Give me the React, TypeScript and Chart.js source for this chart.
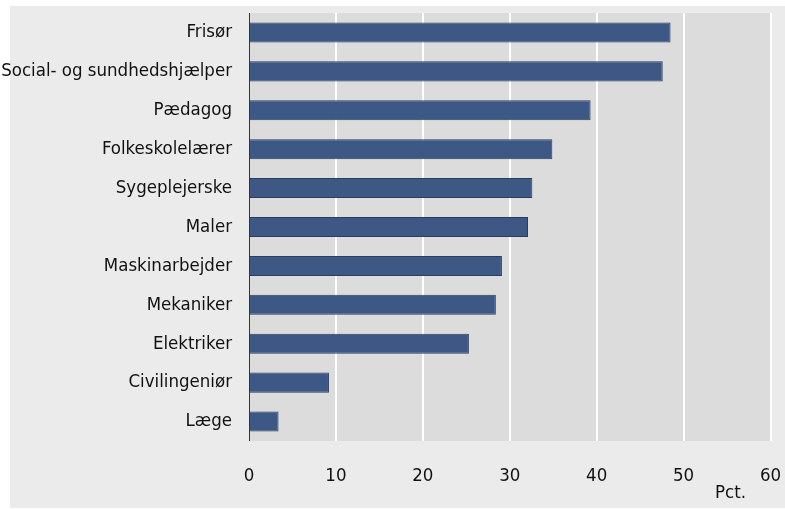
import React, { useEffect, useRef } from "react";
import { Chart, registerables } from "chart.js";

Chart.register(...registerables);

const categories = [
  "Frisør",
  "Social- og sundhedshjælper",
  "Pædagog",
  "Folkeskolelærer",
  "Sygeplejerske",
  "Maler",
  "Maskinarbejder",
  "Mekaniker",
  "Elektriker",
  "Civilingeniør",
  "Læge",
];
const values = [48.5, 47.6, 39.3, 34.9, 32.6, 32.1, 29.1, 28.4, 25.3, 9.2, 3.4];
const xTicks = [0, 10, 20, 30, 40, 50, 60];
const unitLabel = "Pct.";

const FONT = "'DejaVu Sans Condensed', 'Liberation Sans Narrow', sans-serif";
const FS = 18.5;

const bgPlugin = {
  id: "bgPlugin",
  beforeDraw(chart: any) {
    const { ctx, chartArea } = chart;
    ctx.save();
    ctx.fillStyle = "#ffffff";
    ctx.fillRect(0, 0, chart.width, chart.height);
    ctx.fillStyle = "#ebebeb";
    ctx.fillRect(10, 6, chart.width - 10, chart.height - 7);
    ctx.fillStyle = "#dcdcdc";
    ctx.fillRect(chartArea.left, chartArea.top, chartArea.right - chartArea.left, chartArea.bottom - chartArea.top);
    ctx.restore();
  },
  afterDraw(chart: any) {
    const { ctx, chartArea } = chart;
    ctx.save();
    ctx.strokeStyle = "#2a3350";
    ctx.lineWidth = 1;
    ctx.beginPath();
    ctx.moveTo(chartArea.left + 0.5, chartArea.top);
    ctx.lineTo(chartArea.left + 0.5, chartArea.bottom);
    ctx.stroke();
    const xs = chart.scales.x;
    ctx.fillStyle = "#111111";
    ctx.font = FS + "px " + FONT;
    ctx.textAlign = "center";
    ctx.textBaseline = "middle";
    ctx.fillText(unitLabel, xs.getPixelForValue(55.4), 493);
    ctx.restore();
  },
};

export default function App() {
  const ref = useRef<HTMLCanvasElement>(null);
  useEffect(() => {
    const chart = new Chart(ref.current!, {
      type: "bar",
      data: {
        labels: categories,
        datasets: [
          {
            data: values,
            backgroundColor: "#3e5886",
            borderColor: "#2a3d5e",
            borderWidth: 1,
            barPercentage: 0.515,
            categoryPercentage: 1,
          },
        ],
      },
      options: {
        indexAxis: "y",
        responsive: false,
        animation: false,
        layout: { padding: { left: 0, top: 13, right: 14.5, bottom: 0 } },
        plugins: { legend: { display: false }, tooltip: { enabled: false } },
        scales: {
          x: {
            min: 0,
            max: 60,
            afterBuildTicks: (scale: any) => {
              scale.ticks = xTicks.map((v) => ({ value: v }));
            },
            afterFit: (scale: any) => {
              scale.height = 68;
              scale.paddingLeft = 0;
              scale.paddingRight = 0;
            },
            grid: {
              color: (c: any) => (c.tick && c.tick.value === 0 ? "rgba(0,0,0,0)" : "#ffffff"),
              lineWidth: 2,
              drawTicks: false,
            },
            border: { display: false },
            ticks: {
              color: "#111111",
              font: { family: FONT, size: FS },
              padding: 24,
            },
          },
          y: {
            afterFit: (scale: any) => {
              scale.width = 249;
              scale.paddingTop = 0;
              scale.paddingBottom = 0;
            },
            grid: { display: false, drawTicks: false },
            border: { display: false },
            ticks: {
              color: "#111111",
              font: { family: FONT, size: FS },
              padding: 17,
            },
          },
        },
      },
      plugins: [bgPlugin],
    });
    return () => chart.destroy();
  }, []);
  return (
    <div style={{ position: "fixed", left: 0, top: 0, width: 785, height: 509 }}>
      <canvas ref={ref} width={785} height={509} style={{ display: "block" }} />
    </div>
  );
}
